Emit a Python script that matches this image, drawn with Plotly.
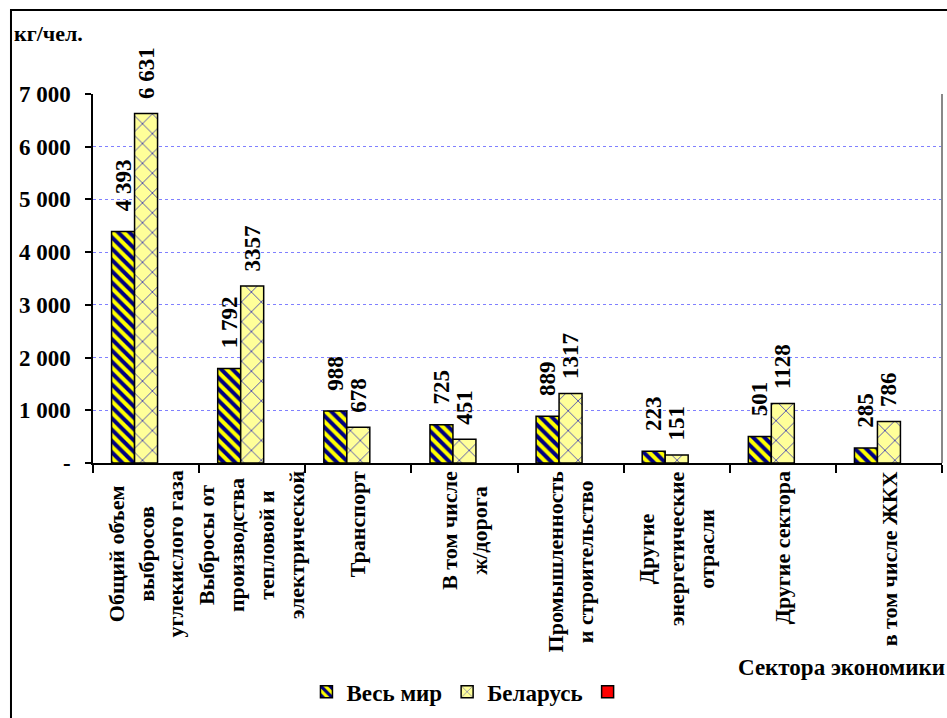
import plotly.graph_objects as go

categories = [
    "Общий объем<br>выбросов<br>углекислого газа",
    "Выбросы от<br>производства<br>тепловой и<br>электрической",
    "Транспорт",
    "В том числе<br>ж/дорога",
    "Промышленность<br>и строительство",
    "Другие<br>энергетические<br>отрасли",
    "Другие сектора",
    "в том числе ЖКХ",
]
world = [4393, 1792, 988, 725, 889, 223, 501, 285]
belarus = [6631, 3357, 678, 451, 1317, 151, 1128, 786]
world_labels = ["4 393", "1 792", "988", "725", "889", "223", "501", "285"]
belarus_labels = ["6 631", "3357", "678", "451", "1317", "151", "1128", "786"]
third = [None] * len(categories)

y_ticks = [0, 1000, 2000, 3000, 4000, 5000, 6000, 7000]
y_ticktext = ["-", "1 000", "2 000", "3 000", "4 000", "5 000", "6 000", "7 000"]

FONT = "Liberation Serif, Times New Roman, serif"
BOLD = dict(family=FONT, color="black", weight="bold")

fig = go.Figure()
fig.add_trace(go.Bar(
    x=categories, y=world, name="Весь мир",
    text=world_labels, texttemplate="\u00a0\u00a0\u00a0%{text}",
    textposition="outside", textangle=-90, cliponaxis=False, constraintext="none",
    textfont=dict(BOLD, size=23),
    marker=dict(color="#FFFF00", line=dict(color="black", width=1.5),
                pattern=dict(shape="\\", bgcolor="#FFFF00", fgcolor="#000080",
                             size=8, solidity=0.5, fillmode="replace")),
))
fig.add_trace(go.Bar(
    x=categories, y=belarus, name="Беларусь",
    text=belarus_labels, texttemplate="\u00a0\u00a0%{text}",
    textposition="outside", textangle=-90, cliponaxis=False, constraintext="none",
    textfont=dict(BOLD, size=23),
    marker=dict(color="#FFFF99", line=dict(color="black", width=1.5),
                pattern=dict(shape="x", bgcolor="#FFFF99", fgcolor="#4040b0",
                             size=14, solidity=0.12, fillmode="replace")),
))
fig.add_trace(go.Bar(
    x=categories, y=third, name="", showlegend=True,
    marker=dict(color="#FF0000", line=dict(color="black", width=1.5)),
))

# category labels as centered, rotated multi-line annotations
for cat in categories:
    lines = cat.split("<br>")
    txt = "<br>".join(f'<span style="font-size:22px">{ln}</span>' for ln in lines)
    fig.add_annotation(
        x=cat, xref="x", y=-0.016, yref="paper",
        text=txt, textangle=-90, showarrow=False,
        xanchor="center", yanchor="top", align="center",
        font=dict(BOLD, size=23),
    )

fig.add_annotation(
    x=-0.095, xref="paper", y=1.165, yref="paper", text="кг/чел.",
    showarrow=False, xanchor="left", yanchor="middle",
    font=dict(BOLD, size=22),
)
fig.add_annotation(
    x=1, xref="paper", y=-0.555, yref="paper", text="Сектора экономики",
    showarrow=False, xanchor="right", yanchor="middle", xshift=5,
    font=dict(BOLD, size=23),
)

# outer chart frame and plot-area right border
fig.add_shape(type="rect", xref="paper", yref="paper",
              x0=-0.0966, x1=1.03, y0=-0.75, y1=1.2276,
              line=dict(color="black", width=2), fillcolor="rgba(0,0,0,0)")
fig.add_shape(type="line", xref="paper", yref="paper",
              x0=1, x1=1, y0=0, y1=1, line=dict(color="#888888", width=2))

fig.update_layout(
    width=947, height=718,
    margin=dict(l=93, r=5, t=94, b=255),
    paper_bgcolor="white", plot_bgcolor="white",
    barmode="group", bargap=0.35, bargroupgap=0,
    font=dict(family=FONT, size=22, color="black"),
    showlegend=True,
    legend=dict(orientation="h", x=0.444, xanchor="center", y=-0.62, yanchor="middle",
                font=dict(BOLD, size=23),
                bgcolor="rgba(0,0,0,0)", itemwidth=30, tracegroupgap=0),
    xaxis=dict(showticklabels=False, ticks="outside", tickson="boundaries",
               ticklen=8, tickcolor="black", tickwidth=1.5,
               showline=True, linecolor="black", linewidth=2,
               showgrid=False, zeroline=False),
    yaxis=dict(range=[0, 7000], tickvals=y_ticks, ticktext=y_ticktext,
               ticks="outside", ticklen=6, tickcolor="black", tickwidth=1.5,
               ticklabelstandoff=10,
               tickfont=dict(BOLD, size=23),
               showline=True, linecolor="black", linewidth=1.5,
               showgrid=True, gridcolor="#8080ff", gridwidth=1, griddash="dot",
               zeroline=False),
)

fig.write_html("out.html")
